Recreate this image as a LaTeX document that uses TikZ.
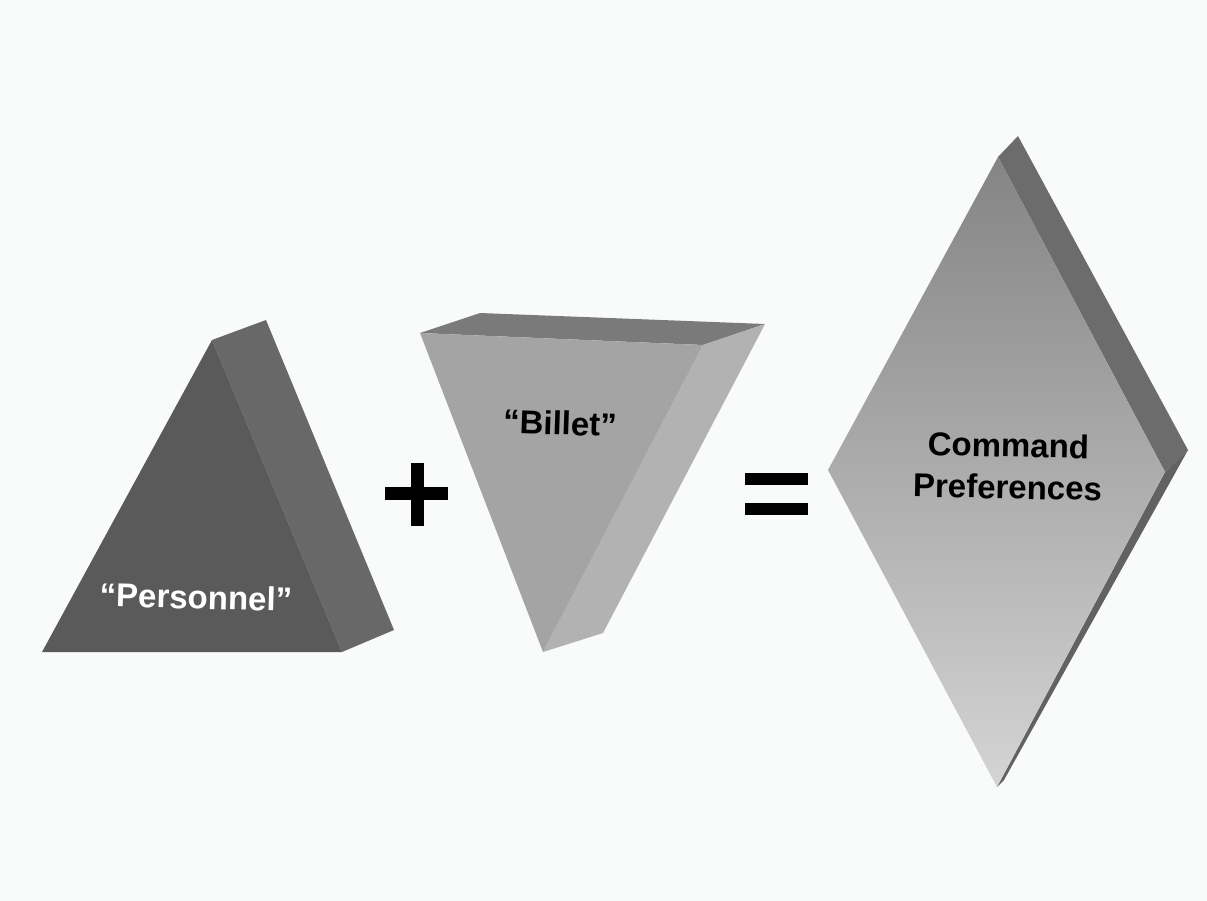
\documentclass[tikz,border=0pt]{standalone}
\usepackage{fontspec}
\setmainfont{Liberation Sans}
\definecolor{paper}{RGB}{249,251,251}
\definecolor{persfront}{RGB}{90,90,90}
\definecolor{persside}{RGB}{104,104,104}
\definecolor{billtop}{RGB}{122,122,122}
\definecolor{billfront}{RGB}{164,164,164}
\definecolor{billside}{RGB}{178,178,178}
\definecolor{diatop}{RGB}{132,132,132}
\definecolor{diabottom}{RGB}{212,212,212}
\definecolor{diaside}{RGB}{108,108,108}
\definecolor{dialow}{RGB}{98,98,98}
\tikzset{
  label/.style={font=\fontsize{33}{42}\selectfont\bfseries, align=center, inner sep=0pt},
  signbar/.style={fill=black, draw=none}
}
\begin{document}
\begin{tikzpicture}[x=1pt,y=-1pt]
  \fill[paper] (0,0) rectangle (1207,901);
  \useasboundingbox (0,0) rectangle (1207,901);

  % Left prism: upright triangle
  \fill[persside] (212,340) -- (266,320) -- (394,630) -- (342,652) -- cycle;
  \fill[persfront] (212,340) -- (342,652) -- (42,652) -- cycle;
  \node[label, text=white, rotate=-1.5] (personnel) at (196,597) {“Personnel”};

  % Plus sign
  \fill[signbar] (385,487) rectangle (448,500);
  \fill[signbar] (411,463) rectangle (424,526);
  \coordinate (plus) at (417,493);

  % Middle prism: inverted triangle
  \fill[billtop] (420,333) -- (480,313) -- (765,324) -- (703,345) -- cycle;
  \fill[billside] (703,345) -- (765,324) -- (603,633) -- (543,652) -- cycle;
  \fill[billfront] (420,333) -- (703,345) -- (543,652) -- cycle;
  \node[label, rotate=-2] (billet) at (560,423) {“Billet”};

  % Equals sign
  \fill[signbar] (745,473) rectangle (808,485);
  \fill[signbar] (745,503) rectangle (808,515);
  \coordinate (equals) at (776,494);

  % Right slab: diamond
  \fill[diaside] (998,157) -- (1018,136) -- (1188,450) -- (1165,472) -- cycle;
  \fill[dialow] (1165,472) -- (1188,450) -- (1004,780) -- (997,787) -- cycle;
  \shade[top color=diatop, bottom color=diabottom]
    (998,157) -- (1165,472) -- (997,787) -- (828,470) -- cycle;
  \node[label, rotate=-1.2] (command) at (1008,466) {Command\\Preferences};
\end{tikzpicture}
\end{document}
